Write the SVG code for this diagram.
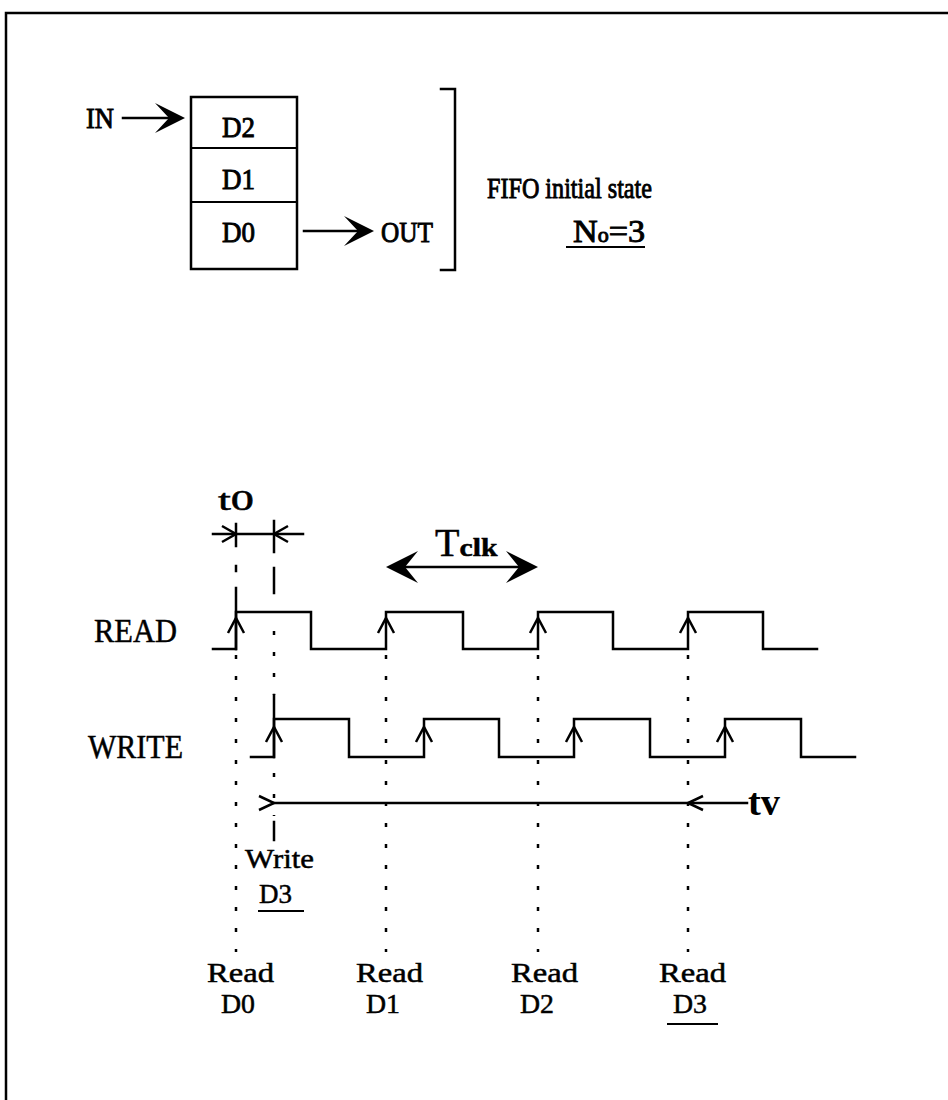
<svg xmlns="http://www.w3.org/2000/svg" width="948" height="1100" viewBox="0 0 948 1100">
<defs>
<style>
.ln{fill:none;stroke:#000;stroke-width:2.5;stroke-linecap:square;stroke-linejoin:miter}
.thin{fill:none;stroke:#000;stroke-width:2}
.dot{fill:none;stroke:#000;stroke-width:2.5;stroke-dasharray:4 17}
.ar{fill:none;stroke:#000;stroke-width:2.5;stroke-linejoin:miter}
.fh{fill:#000;stroke:none}
.tb{font-family:"Liberation Serif","Times New Roman",serif;font-weight:normal;fill:#000;stroke:#000;stroke-width:0.9}
.tk{font-family:"Liberation Serif","Times New Roman",serif;font-weight:bold;fill:#000}
.tn{font-family:"Liberation Serif","Times New Roman",serif;font-weight:normal;fill:#000;stroke:#000;stroke-width:0.5}
</style>
</defs>
<rect width="948" height="1100" fill="#fff"/>
<!-- frame -->
<path class="ln" d="M6,1100 V13 H948"/>

<!-- FIFO stack -->
<g id="fifo">
<rect class="ln" x="191" y="97" width="106" height="172"/>
<line class="thin" x1="191" y1="148" x2="297" y2="148"/>
<line class="thin" x1="191" y1="202" x2="297" y2="202"/>
<text class="tb" x="222" y="137" font-size="29" textLength="33" lengthAdjust="spacingAndGlyphs">D2</text>
<text class="tb" x="222" y="189" font-size="29" textLength="33" lengthAdjust="spacingAndGlyphs">D1</text>
<text class="tb" x="222" y="242" font-size="29" textLength="33" lengthAdjust="spacingAndGlyphs">D0</text>
</g>
<g id="in">
<text class="tb" x="86" y="128" font-size="29" textLength="28" lengthAdjust="spacingAndGlyphs">IN</text>
</g>
<g id="out">
<text class="tb" x="381" y="242" font-size="29" textLength="52" lengthAdjust="spacingAndGlyphs">OUT</text>
</g>
<g id="fifo-label">
<path class="ln" d="M441,89 H455 V270 H441"/>
<text class="tb" x="487" y="198" font-size="29" textLength="165" lengthAdjust="spacingAndGlyphs">FIFO initial state</text>
<text class="tb" x="573" y="242" font-size="31" textLength="72" lengthAdjust="spacingAndGlyphs">N<tspan font-size="20">o</tspan>=3</text>
<line class="thin" x1="566" y1="247" x2="645" y2="247"/>
</g>

<!-- connectors -->
<g id="connectors">
<line class="ln" x1="123" y1="118" x2="172" y2="118"/>
<path class="fh" d="M185,118 L155,103 L169,118 L155,133 Z"/>
<line class="ln" x1="304" y1="231" x2="360" y2="231"/>
<path class="fh" d="M374,231 L344,216 L358,231 L344,246 Z"/>
</g>

<!-- timing diagram -->
<g id="timing">
<!-- markers -->
<path class="ln" d="M236,524 V546 M236,566 V571 M236,588 V649"/>
<path class="dot" d="M236,655 V952"/>
<path class="ln" d="M274,521 V552 M274,568 V593"/>
<path class="dot" d="M274,631 V695 M274,773 V816"/>
<path class="ln" d="M274,695 V757 M274,822 V840"/>
<path class="dot" d="M386,655 V952 M538,655 V952 M688,655 V952"/>

<!-- t0 -->
<line class="ln" x1="213" y1="534" x2="303" y2="534"/>
<path class="ar" d="M222,526 L236,534 L222,542"/>
<path class="ar" d="M288,526 L274,534 L288,542"/>
<text class="tn" x="218" y="510" font-size="30" textLength="36" lengthAdjust="spacingAndGlyphs">t0</text>

<!-- Tclk -->
<line class="ln" x1="400" y1="567" x2="524" y2="567"/>
<path class="fh" d="M386,567 L418,551 L405,567 L418,583 Z"/>
<path class="fh" d="M538,567 L506,551 L519,567 L506,583 Z"/>
<text class="tn" x="435" y="556" font-size="40">T<tspan class="tk" font-size="26" textLength="38" lengthAdjust="spacingAndGlyphs">clk</tspan></text>

<!-- READ -->
<text class="tn" x="94" y="642" font-size="34" textLength="83" lengthAdjust="spacingAndGlyphs">READ</text>
<path class="ln" d="M213,649 H236 V612 H311 V649 H386 V612 H463 V649 H538 V612 H613 V649 H688 V612 H763 V649 H817"/>
<path class="ar" d="M228,633 L236,618 L244,633 M378,633 L386,618 L394,633 M530,633 L538,618 L546,633 M680,633 L688,618 L696,633"/>

<!-- WRITE -->
<text class="tn" x="88" y="758" font-size="34" textLength="95" lengthAdjust="spacingAndGlyphs">WRITE</text>
<path class="ln" d="M251,757 H274 V719 H349 V757 H424 V719 H499 V757 H574 V719 H650 V757 H725 V719 H801 V757 H855"/>
<path class="ar" d="M266,742 L274,727 L282,742 M416,742 L424,727 L432,742 M566,742 L574,727 L582,742 M717,742 L725,727 L733,742"/>

<!-- tv -->
<line class="ln" x1="274" y1="803" x2="747" y2="803"/>
<path class="ar" d="M259,796 L274,803 L259,810"/>
<path class="ar" d="M703,796 L688,803 L703,810"/>
<text class="tk" x="748" y="815" font-size="38" textLength="32" lengthAdjust="spacingAndGlyphs">tv</text>
</g>

<g id="write-d3">
<text class="tn" x="245" y="868" font-size="28" textLength="69" lengthAdjust="spacingAndGlyphs">Write</text>
<text class="tn" x="259" y="903" font-size="28" textLength="33" lengthAdjust="spacingAndGlyphs">D3</text>
<line class="thin" x1="258" y1="911" x2="304" y2="911"/>
</g>
<g id="read-d0">
<text class="tn" x="207" y="982" font-size="28" textLength="67" lengthAdjust="spacingAndGlyphs">Read</text>
<text class="tn" x="221" y="1013" font-size="28" textLength="34" lengthAdjust="spacingAndGlyphs">D0</text>
</g>
<g id="read-d1">
<text class="tn" x="356" y="982" font-size="28" textLength="67" lengthAdjust="spacingAndGlyphs">Read</text>
<text class="tn" x="366" y="1013" font-size="28" textLength="34" lengthAdjust="spacingAndGlyphs">D1</text>
</g>
<g id="read-d2">
<text class="tn" x="511" y="982" font-size="28" textLength="67" lengthAdjust="spacingAndGlyphs">Read</text>
<text class="tn" x="520" y="1013" font-size="28" textLength="34" lengthAdjust="spacingAndGlyphs">D2</text>
</g>
<g id="read-d3">
<text class="tn" x="659" y="982" font-size="28" textLength="67" lengthAdjust="spacingAndGlyphs">Read</text>
<text class="tn" x="673" y="1013" font-size="28" textLength="34" lengthAdjust="spacingAndGlyphs">D3</text>
<line class="thin" x1="667" y1="1024" x2="718" y2="1024"/>
</g>
</svg>
